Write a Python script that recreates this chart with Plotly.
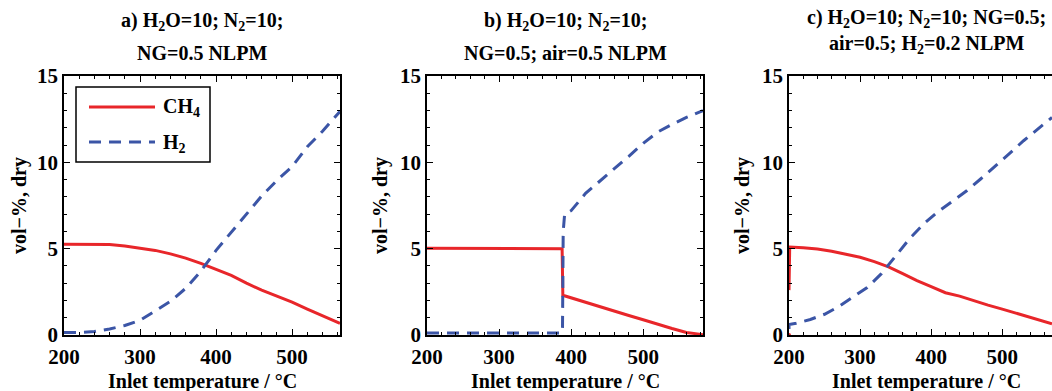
import plotly.graph_objects as go

W, H = 1052, 391
FONT = "Liberation Serif"
RED = "#e8262a"
BLUE = "#3b55a6"

# ---- a) H2O=10; N2=10; NG=0.5 NLPM
temp_a = [200, 220, 240, 260, 280, 300, 320, 340, 360, 380, 400, 420, 440, 460,
          480, 500, 520, 540, 563]
ch4_a = [5.25, 5.25, 5.25, 5.24, 5.15, 5.03, 4.9, 4.7, 4.45, 4.15, 3.8, 3.45, 3.0,
         2.6, 2.25, 1.9, 1.5, 1.1, 0.68]
h2_a = [0.14, 0.14, 0.2, 0.35, 0.55, 0.85, 1.4, 1.95, 2.7, 3.7, 4.9, 5.95, 7.0,
        8.05, 8.95, 9.75, 10.9, 11.8, 12.95]

# ---- b) H2O=10; N2=10; NG=0.5; air=0.5 NLPM
temp_ch4_b = [200, 250, 300, 350, 387.5, 388.5, 400, 420, 440, 460, 480, 500, 520,
              540, 560, 583]
ch4_b = [5.02, 5.02, 5.0, 5.0, 5.0, 2.3, 2.15, 1.87, 1.63, 1.38, 1.13, 0.88, 0.62,
         0.38, 0.15, 0.02]
temp_h2_b = [200, 250, 300, 350, 387, 388, 389, 391, 400, 420, 440, 460, 480, 500,
             520, 540, 560, 583]
h2_b = [0.12, 0.12, 0.12, 0.12, 0.12, 0.2, 6.0, 7.0, 7.2, 8.2, 8.9, 9.65, 10.35,
        11.1, 11.75, 12.2, 12.6, 13.0]

# ---- c) H2O=10; N2=10; NG=0.5; air=0.5; H2=0.2 NLPM
temp_ch4_c = [200, 200, 201, 220, 240, 260, 280, 300, 320, 340, 360, 380, 400, 420,
              440, 460, 480, 500, 520, 540, 560, 570]
ch4_c = [0.0, 2.6, 5.1, 5.05, 4.98, 4.85, 4.68, 4.5, 4.25, 3.95, 3.55, 3.15, 2.8,
         2.45, 2.25, 1.98, 1.73, 1.5, 1.25, 1.0, 0.75, 0.65]
temp_h2_c = [200, 200, 210, 230, 250, 270, 290, 310, 330, 350, 370, 390, 410, 430,
             450, 470, 490, 510, 530, 550, 570]
h2_c = [0.35, 0.6, 0.68, 0.9, 1.2, 1.65, 2.2, 2.75, 3.55, 4.6, 5.6, 6.45, 7.15,
        7.75, 8.35, 9.05, 9.75, 10.5, 11.25, 11.95, 12.6]

x_ticks = [200, 300, 400, 500]
y_ticks = [0, 5, 10, 15]
x_ranges = [[200, 563], [200, 583], [200, 570]]

titles = [
    ("a) H<sub>2</sub>O=10; N<sub>2</sub>=10;", "NG=0.5 NLPM"),
    ("b) H<sub>2</sub>O=10; N<sub>2</sub>=10;", "NG=0.5; air=0.5 NLPM"),
    ("c) H<sub>2</sub>O=10; N<sub>2</sub>=10; NG=0.5;", "air=0.5; H<sub>2</sub>=0.2 NLPM"),
]

# panel pixel extents (left, right); plot area spans y 76..335
panels_px = [(64, 340), (427, 703), (789, 1052)]
centers_px = [202, 565, 926]
ytitle_px = [20, 381, 743]
top_px, bot_px = 76, 335


def px_x(x):
    return x / W


def px_y(y):
    return 1 - y / H


fig = go.Figure()

red_line = dict(color=RED, width=3)
blue_line = dict(color=BLUE, width=3, dash="12px,8px")

fig.add_trace(go.Scatter(x=temp_a, y=ch4_a, mode="lines", line=red_line, xaxis="x", yaxis="y"))
fig.add_trace(go.Scatter(x=temp_a, y=h2_a, mode="lines", line=blue_line, xaxis="x", yaxis="y"))
fig.add_trace(go.Scatter(x=temp_ch4_b, y=ch4_b, mode="lines", line=red_line, xaxis="x2", yaxis="y2"))
fig.add_trace(go.Scatter(x=temp_h2_b, y=h2_b, mode="lines", line=blue_line, xaxis="x2", yaxis="y2"))
# CH4 in panel c: isolated start value at 0, then the curve from the second point on
fig.add_trace(go.Scatter(x=temp_ch4_c[1:], y=ch4_c[1:], mode="lines", line=red_line, xaxis="x3", yaxis="y3"))
fig.add_trace(go.Scatter(x=temp_ch4_c[:1], y=ch4_c[:1], mode="markers",
                         marker=dict(color=RED, size=4), xaxis="x3", yaxis="y3"))
fig.add_trace(go.Scatter(x=temp_h2_c, y=h2_c, mode="lines", line=blue_line, xaxis="x3", yaxis="y3"))

tick_font = dict(family=FONT, size=21, color="black", weight="bold")

layout = dict(
    width=W, height=H,
    margin=dict(l=0, r=0, t=0, b=0),
    paper_bgcolor="white", plot_bgcolor="white",
    showlegend=False,
    font=dict(family=FONT, color="black"),
)

for i in range(3):
    sfx = "" if i == 0 else str(i + 1)
    l, r = panels_px[i]
    layout["xaxis" + sfx] = dict(
        domain=[px_x(l), min(1.0, px_x(r))],
        range=x_ranges[i],
        tickvals=x_ticks,
        ticks="inside", ticklen=6, tickwidth=1.2, tickcolor="black",
        minor=dict(ticks="inside", ticklen=3, dtick=20, tick0=200, tickcolor="black", showgrid=False),
        showline=True, linecolor="black", linewidth=1.5,
        mirror="ticks", showgrid=False, zeroline=False,
        tickfont=tick_font, anchor="y" + sfx, automargin=False,
        ticklabelstandoff=2,
    )
    layout["yaxis" + sfx] = dict(
        domain=[px_y(bot_px), px_y(top_px)],
        range=[0, 15],
        tickvals=y_ticks,
        ticks="inside", ticklen=6, tickwidth=1.2, tickcolor="black",
        minor=dict(ticks="inside", ticklen=3, dtick=1, tick0=0, tickcolor="black", showgrid=False),
        showline=True, linecolor="black", linewidth=1.5,
        mirror="ticks" if i < 2 else False, showgrid=False, zeroline=False,
        tickfont=tick_font, anchor="x" + sfx, automargin=False,
    )

fig.update_layout(**layout)

annotations = []
title_font = dict(family=FONT, size=20, color="black")
for i in range(3):
    line1, line2 = titles[i]
    dy = -4 if i == 2 else 0
    annotations.append(dict(text="<b>%s</b>" % line1, x=px_x(centers_px[i]), y=px_y(22 + dy),
                            xref="paper", yref="paper", xanchor="center", yanchor="middle",
                            showarrow=False, font=title_font))
    annotations.append(dict(text="<b>%s</b>" % line2, x=px_x(centers_px[i]), y=px_y(53 + 2 * dy),
                            xref="paper", yref="paper", xanchor="center", yanchor="middle",
                            showarrow=False, font=title_font))
    annotations.append(dict(text="<b>Inlet temperature / °C</b>", x=px_x(centers_px[i]), y=px_y(381),
                            xref="paper", yref="paper", xanchor="center", yanchor="middle",
                            showarrow=False, font=title_font))
    annotations.append(dict(text="<b>vol−%, dry</b>", x=px_x(ytitle_px[i]), y=px_y(206),
                            xref="paper", yref="paper", xanchor="center", yanchor="middle",
                            textangle=-90, showarrow=False, font=title_font))

# legend box of panel a
annotations.append(dict(text="<b>CH<sub>4</sub></b>", x=px_x(161), y=px_y(108),
                        xref="paper", yref="paper", xanchor="left", yanchor="middle",
                        showarrow=False, font=title_font))
annotations.append(dict(text="<b>H<sub>2</sub></b>", x=px_x(161), y=px_y(143),
                        xref="paper", yref="paper", xanchor="left", yanchor="middle",
                        showarrow=False, font=title_font))

shapes = [
    dict(type="rect", xref="paper", yref="paper", x0=px_x(76), x1=px_x(210),
         y0=px_y(162), y1=px_y(87), line=dict(color="black", width=1.5), fillcolor="white", layer="above"),
    dict(type="line", xref="paper", yref="paper", x0=px_x(89), x1=px_x(155),
         y0=px_y(107), y1=px_y(107), line=dict(color=RED, width=3), layer="above"),
    dict(type="line", xref="paper", yref="paper", x0=px_x(89), x1=px_x(155),
         y0=px_y(142), y1=px_y(142), line=dict(color=BLUE, width=3, dash="12px,8px"), layer="above"),
]

fig.update_layout(annotations=annotations, shapes=shapes)
fig.write_html("out.html")
